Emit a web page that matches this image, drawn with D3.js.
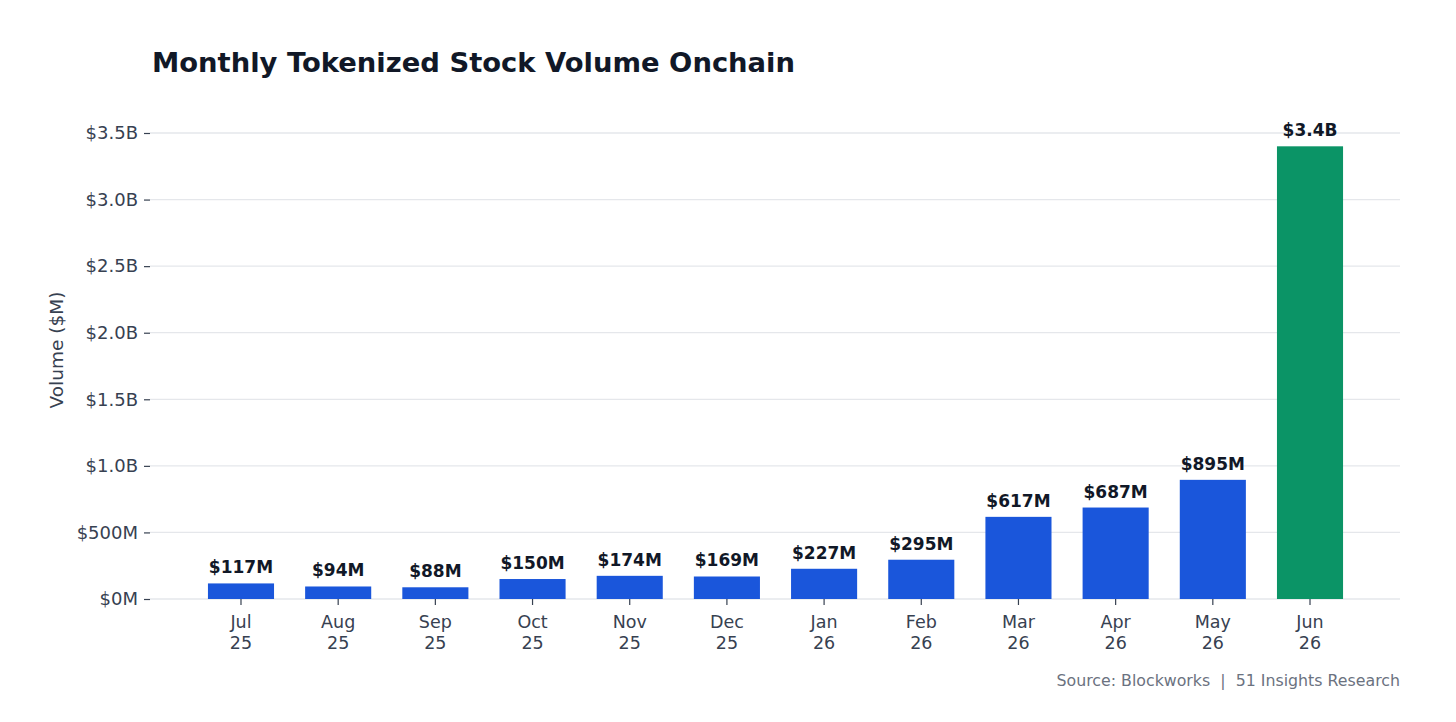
<!DOCTYPE html>
<html>
<head>
<meta charset="utf-8">
<script src="https://cdn.jsdelivr.net/npm/d3@7"></script>
<style>
  body { margin: 0; background: #fff; }
  svg { display: block; font-family: "DejaVu Sans", sans-serif; }
</style>
</head>
<body>
<div id="canvas"></div>
<script>
"use strict"

/* chart values */
let months = ["Jul 25", "Aug 25", "Sep 25", "Oct 25", "Nov 25", "Dec 25",
              "Jan 26", "Feb 26", "Mar 26", "Apr 26", "May 26", "Jun 26"];
let volumes = [117, 94, 88, 150, 174, 169, 227, 295, 617, 687, 895, 3400];
let valueLabels = ["$117M", "$94M", "$88M", "$150M", "$174M", "$169M",
                   "$227M", "$295M", "$617M", "$687M", "$895M", "$3.4B"];
let yTicks = [0, 500, 1000, 1500, 2000, 2500, 3000, 3500];
let yTickLabels = ["$0M", "$500M", "$1.0B", "$1.5B", "$2.0B", "$2.5B", "$3.0B", "$3.5B"];

let width = 1456, height = 722;

let drawing = d3.select("#canvas")
    .append("svg")
    .attr("width", width)
    .attr("height", height);

let plotLeft = 150, plotRight = 1400, plotTop = 133, plotBottom = 599;

let x = d3.scaleBand()
    .domain(months)
    .range([192.4, 1358.6])
    .paddingInner(0.32)
    .paddingOuter(0.16);

let y = d3.scaleLinear()
    .domain([0, 3500])
    .range([plotBottom, plotTop]);

/* title */
drawing.append("text")
    .attr("x", 152)
    .attr("y", 72)
    .attr("font-size", 27.4)
    .attr("font-weight", "bold")
    .attr("fill", "#111827")
    .text("Monthly Tokenized Stock Volume Onchain");

/* grid lines */
drawing.append("g")
    .selectAll("line")
    .data(yTicks)
    .join("line")
    .attr("x1", plotLeft)
    .attr("x2", plotRight)
    .attr("y1", d => y(d))
    .attr("y2", d => y(d))
    .attr("stroke", "#e5e7eb")
    .attr("stroke-width", 1.3);

/* y axis */
let yAxis = drawing.append("g")
    .attr("transform", `translate(${plotLeft},0)`)
    .call(d3.axisLeft(y)
        .tickValues(yTicks)
        .tickFormat((d, i) => yTickLabels[i])
        .tickSize(6)
        .tickPadding(6));
yAxis.select(".domain").remove();
yAxis.selectAll(".tick line").attr("stroke", "#374151").attr("stroke-width", 1.2);
yAxis.selectAll(".tick text")
    .attr("font-family", "DejaVu Sans")
    .attr("font-size", 18)
    .attr("fill", "#374151");

/* bars */
drawing.append("g")
    .selectAll("rect")
    .data(volumes)
    .join("rect")
    .attr("x", (d, i) => x(months[i]))
    .attr("y", d => y(d))
    .attr("width", x.bandwidth())
    .attr("height", d => plotBottom - y(d))
    .attr("fill", (d, i) => i === volumes.length - 1 ? "#0b9466" : "#1a56db");

/* value labels */
drawing.append("g")
    .selectAll("text")
    .data(volumes)
    .join("text")
    .attr("x", (d, i) => x(months[i]) + x.bandwidth() / 2)
    .attr("y", d => y(d) - 10)
    .attr("text-anchor", "middle")
    .attr("font-size", 17)
    .attr("font-weight", "bold")
    .attr("fill", "#111827")
    .text((d, i) => valueLabels[i]);

/* x axis */
let xAxis = drawing.append("g")
    .attr("transform", `translate(0,${plotBottom})`)
    .call(d3.axisBottom(x).tickSize(6).tickPadding(6).tickFormat(""));
xAxis.select(".domain").remove();
xAxis.selectAll(".tick line").attr("stroke", "#374151").attr("stroke-width", 1.2);
xAxis.selectAll(".tick").each(function(d) {
    let parts = d.split(" ");
    let t = d3.select(this).select("text")
        .attr("y", 0)
        .attr("dy", null)
        .attr("font-family", "DejaVu Sans")
        .attr("font-size", 17.5)
        .attr("fill", "#374151")
        .text(null);
    t.append("tspan").attr("x", 0).attr("y", 29).text(parts[0]);
    t.append("tspan").attr("x", 0).attr("y", 50).text(parts[1]);
});

/* y axis title */
drawing.append("text")
    .attr("transform", "translate(63,350) rotate(-90)")
    .attr("text-anchor", "middle")
    .attr("font-size", 18.5)
    .attr("fill", "#374151")
    .text("Volume ($M)");

/* source */
drawing.append("text")
    .attr("x", 1400)
    .attr("y", 686)
    .attr("text-anchor", "end")
    .attr("font-size", 15.8)
    .attr("fill", "#6b7280")
    .style("white-space", "pre")
    .text("Source: Blockworks  |  51 Insights Research");
</script>
</body>
</html>
